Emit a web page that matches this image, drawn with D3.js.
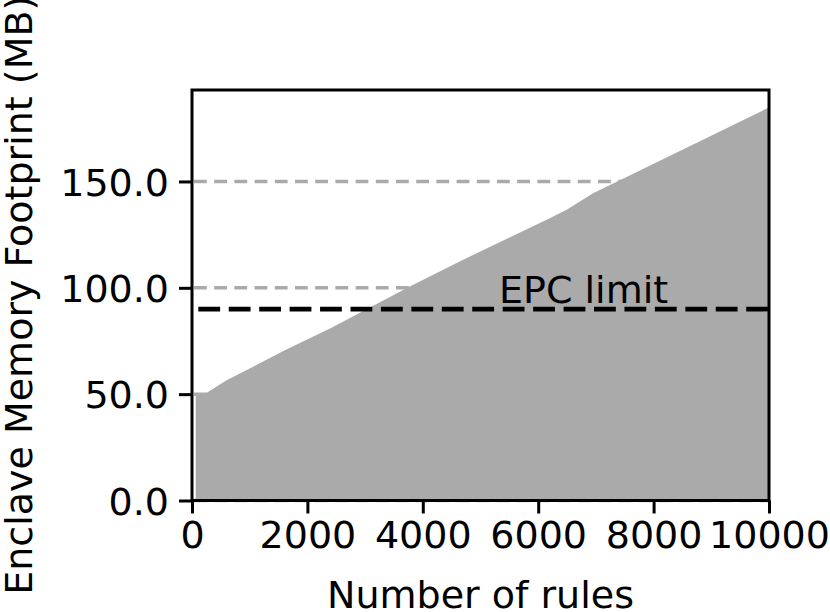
<!DOCTYPE html>
<html>
<head>
<meta charset="utf-8">
<script src="https://cdn.jsdelivr.net/npm/d3@7"></script>
<style>
  html, body { margin: 0; padding: 0; background: #fff; }
  svg text { font-family: "DejaVu Sans", sans-serif; fill: #000; }
</style>
</head>
<body>
<svg id="chart" width="830" height="612"></svg>
<script>
// ---- data ----
const rules = [65, 100, 250, 600, 1600, 2400, 3800, 4700, 6200, 6500, 6950, 7450, 10000];
const memoryMB = [49, 50.5, 50.5, 56.5, 70.5, 81, 101, 113.2, 132.7, 136.8, 144.5, 151, 184.8];
const xTicks = [0, 2000, 4000, 6000, 8000, 10000];
const yTicks = [0, 50, 100, 150];
const gridLevels = [0, 50, 100, 150];
const epcLimit = 90;
const epcLabel = "EPC limit";
const xLabel = "Number of rules";
const yLabel = "Enclave Memory Footprint (MB)";

// ---- layout ----
const svg = d3.select("#chart");
const L = 192, R = 769, T = 90, B = 500.5;
const x = d3.scaleLinear().domain([0, 10000]).range([L, R]);
const y = d3.scaleLinear().domain([0, 193]).range([B, T]);
const fs = 38;

// grid
svg.append("g").selectAll("line").data(gridLevels).join("line")
  .attr("x1", L).attr("x2", R)
  .attr("y1", d => y(d)).attr("y2", d => y(d))
  .attr("stroke", "#aaaaaa").attr("stroke-width", 3.5)
  .attr("stroke-dasharray", "12.8,7.4").attr("stroke-dashoffset", -2);

// area
const data = rules.map((r, i) => ({r, v: memoryMB[i]}));
svg.append("path").datum(data)
  .attr("fill", "#aaaaaa")
  .attr("d", d3.area().x(d => x(d.r)).y0(y(0)).y1(d => y(d.v)));

// EPC line
svg.append("line")
  .attr("x1", L).attr("x2", R)
  .attr("y1", y(epcLimit)).attr("y2", y(epcLimit))
  .attr("stroke", "#000").attr("stroke-width", 4.6)
  .attr("stroke-dasharray", "21.8,8.64").attr("stroke-dashoffset", -6.3);

svg.append("text").attr("x", 499).attr("y", 302.5)
  .attr("font-size", fs).text(epcLabel);

// axes
const xAxis = svg.append("g").attr("transform", `translate(0,${B})`)
  .call(d3.axisBottom(x).tickValues(xTicks).tickFormat(d3.format("d")).tickSize(13).tickPadding(8));
const yAxis = svg.append("g").attr("transform", `translate(${L},0)`)
  .call(d3.axisLeft(y).tickValues(yTicks).tickFormat(d3.format(".1f")).tickSize(13).tickPadding(10));
[xAxis, yAxis].forEach(a => {
  a.select(".domain").remove();
  a.selectAll("line").attr("stroke", "#000").attr("stroke-width", 3);
  a.selectAll("text").attr("font-size", fs).attr("font-family", "DejaVu Sans").attr("fill", "#000");
});
xAxis.selectAll("text").attr("dy", "0.71em");
yAxis.selectAll("text").attr("dy", "0.36em");

// frame
svg.append("rect").attr("x", L).attr("y", T).attr("width", R - L).attr("height", B - T)
  .attr("fill", "none").attr("stroke", "#000").attr("stroke-width", 3);

// labels
svg.append("text").attr("x", (L + R) / 2).attr("y", 608)
  .attr("text-anchor", "middle").attr("font-size", fs).text(xLabel);
svg.append("text")
  .attr("transform", `translate(32,${(T + B) / 2}) rotate(-90)`)
  .attr("text-anchor", "middle").attr("font-size", fs).text(yLabel);
</script>
</body>
</html>
